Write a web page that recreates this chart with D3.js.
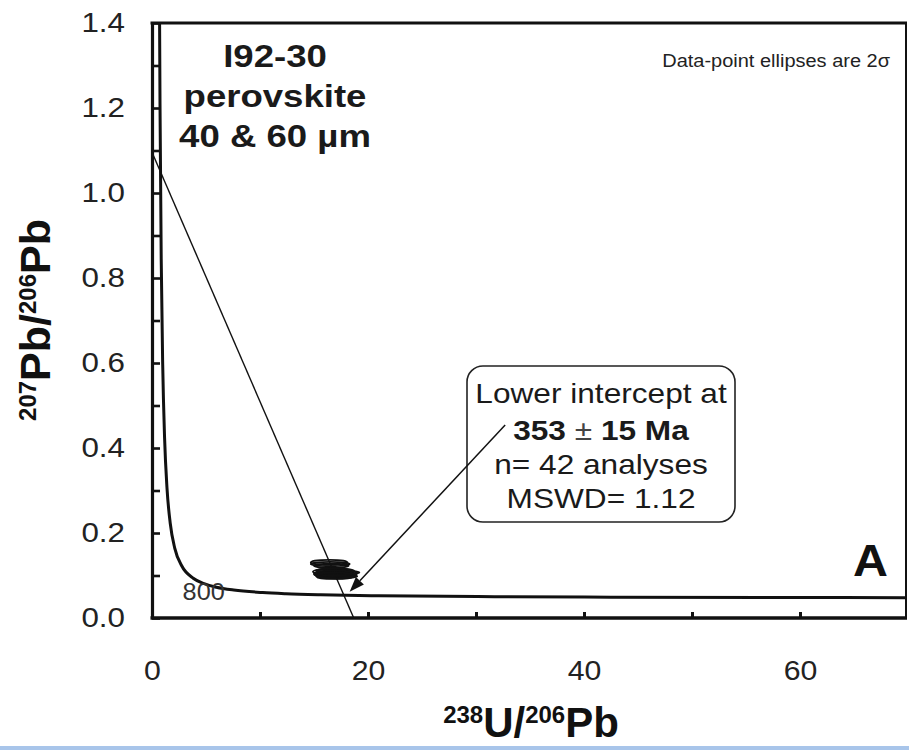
<!DOCTYPE html>
<html><head><meta charset="utf-8">
<script src="https://cdn.jsdelivr.net/npm/d3@7"></script>
<style>
html,body{margin:0;padding:0;background:#fff;}
svg{display:block;font-family:"Liberation Sans",Arial,sans-serif;}
</style></head>
<body>
<svg id="chart" width="909" height="750"></svg>
<script>
// ---- Data ----
// Concordia curve (Tera-Wasserburg)
const concordiaX = [0.651,0.704,0.742,0.853,0.990,1.163,1.387,1.688,2.111,2.749,3.817,4.888,5.960,7.568,10.25,12.40,15.62,20.99,31.74,42.48,63.97,71.13];
const concordiaY = [1.733,1.394,1.207,0.845,0.597,0.425,0.306,0.223,0.164,0.123,0.0936,0.0801,0.0725,0.0658,0.0599,0.0572,0.0547,0.0523,0.0501,0.0491,0.0480,0.0478];
// Discordia regression line: y-intercept and x-intercept
const discordiaX = [0, 18.68];
const discordiaY = [1.096, 0];
// Data-point ellipses (2 sigma): centres and half-widths
const ellX  = [16.4, 16.5, 16.6, 16.8, 17.0, 16.9, 17.1, 16.7, 17.2, 17.0, 16.9, 17.1, 16.8];
const ellY  = [0.131, 0.127, 0.123, 0.109, 0.105, 0.101, 0.098, 0.103, 0.107, 0.111, 0.096, 0.100, 0.112];
const ellSX = [1.7, 1.8, 1.6, 1.9, 2.0, 1.8, 1.9, 1.7, 2.0, 1.7, 1.6, 1.8, 1.6];
const ellSY = [0.006, 0.005, 0.005, 0.006, 0.006, 0.005, 0.005, 0.006, 0.005, 0.005, 0.004, 0.006, 0.005];
// Tick labels
const xTicks = [0, 10, 20, 30, 40, 50, 60];
const xTickLabels = ["0", "", "20", "", "40", "", "60"];
const yTicks = [0, 0.1, 0.2, 0.3, 0.4, 0.5, 0.6, 0.7, 0.8, 0.9, 1.0, 1.1, 1.2, 1.3, 1.4];
const yTickLabels = ["0.0","","0.2","","0.4","","0.6","","0.8","","1.0","","1.2","","1.4"];
// Concordia age marker
const ageLabel = {text: "800", x: 7.57, y: 0.0658};
// Arrow (data coords): start near box, tip at lower intercept
const arrowFrom = [32.7, 0.454];
const arrowTo = [18.3, 0.062];

// ---- Layout ----
const svg = d3.select("#chart");
const L = 152, R = 906, T = 23, B = 618;
const x = d3.scaleLinear().domain([0, 70]).range([L, 908]);
const y = d3.scaleLinear().domain([0, 1.4]).range([B, T]);
const ink = "#111";
const FF = '"Liberation Sans",Arial,sans-serif';

svg.append("defs").append("clipPath").attr("id","clip")
  .append("rect").attr("x",L).attr("y",T).attr("width",R-L).attr("height",B-T);

const plot = svg.append("g").attr("clip-path","url(#clip)");

// Concordia
const conc = concordiaX.map((d,i)=>[d, concordiaY[i]]);
plot.append("path").datum(conc)
  .attr("d", d3.line().x(d=>x(d[0])).y(d=>y(d[1])).curve(d3.curveMonotoneX))
  .attr("fill","none").attr("stroke",ink).attr("stroke-width",3);

// Discordia
plot.append("line")
  .attr("x1", x(discordiaX[0])).attr("y1", y(discordiaY[0]))
  .attr("x2", x(discordiaX[1])).attr("y2", y(discordiaY[1]))
  .attr("stroke", ink).attr("stroke-width", 1.4);

// Ellipses
plot.selectAll("ellipse.pt").data(ellX.map((d,i)=>i)).enter().append("ellipse")
  .attr("class","pt")
  .attr("cx", i=>x(ellX[i])).attr("cy", i=>y(ellY[i]))
  .attr("rx", i=>x(ellX[i]+ellSX[i])-x(ellX[i]))
  .attr("ry", i=>y(ellY[i]-ellSY[i])-y(ellY[i]))
  .attr("fill","none").attr("stroke",ink).attr("stroke-width",1.8);

// Axes
const yAxis = d3.axisLeft(y).tickValues(yTicks)
  .tickFormat((d,i)=>yTickLabels[i]).tickSizeInner(-8).tickSizeOuter(0).tickPadding(27);
const gy = svg.append("g").attr("transform",`translate(${L},0)`).call(yAxis);
gy.select(".domain").attr("stroke",ink).attr("stroke-width",3.2);
gy.selectAll(".tick line").attr("stroke",ink).attr("stroke-width",2.6);
gy.selectAll(".tick text").attr("font-size",28).attr("fill","#222")
  .attr("font-family",FF)
  .attr("x", -27/1.12).attr("transform","scale(1.12,1)");

const xAxis = d3.axisBottom(x).tickValues(xTicks)
  .tickFormat((d,i)=>xTickLabels[i]).tickSizeInner(-6).tickSizeOuter(0).tickPadding(42);
const gx = svg.append("g").attr("transform",`translate(0,${B})`).call(xAxis);
gx.select(".domain").remove();
gx.selectAll(".tick line").attr("stroke",ink).attr("stroke-width",3);
gx.selectAll(".tick text").attr("font-size",28).attr("fill","#222")
  .attr("font-family",FF).attr("transform","scale(1.08,1)");

// bottom axis line & frame
svg.append("line").attr("x1",L-1.5).attr("x2",R+1).attr("y1",B).attr("y2",B)
  .attr("stroke",ink).attr("stroke-width",3.5);
svg.append("line").attr("x1",L-1.5).attr("x2",R+1).attr("y1",T).attr("y2",T)
  .attr("stroke",ink).attr("stroke-width",3);
svg.append("line").attr("x1",R).attr("x2",R).attr("y1",T).attr("y2",B)
  .attr("stroke",ink).attr("stroke-width",2);

// text helper with horizontal stretch
function txt(xp, yp, str, size, opts={}) {
  const sx = opts.sx || 1.15;
  const t = svg.append("text")
    .attr("transform",`translate(${xp},${yp}) scale(${sx},1)`)
    .attr("font-size",size).attr("fill",opts.fill||"#1a1a1a")
    .attr("font-weight",opts.bold?"bold":"normal")
    .attr("text-anchor",opts.anchor||"middle");
  t.text(str);
  return t;
}

// Title
txt(275, 67, "I92-30", 31, {bold:true, sx:1.18});
txt(275, 107, "perovskite", 31, {bold:true, sx:1.18});
txt(275, 147, "40 & 60 µm", 31, {bold:true, sx:1.18});

// Note
txt(890, 67, "Data-point ellipses are 2σ", 18.5, {anchor:"end", sx:1.08, fill:"#222"});

// Panel letter
txt(888, 576, "A", 44, {bold:true, anchor:"end", sx:1.1, fill:"#111"});

// 800 age label
txt(x(ageLabel.x)-9, y(ageLabel.y)+10, ageLabel.text, 23, {anchor:"end", sx:1.1, fill:"#333"});

// Annotation box
svg.append("rect").attr("x",467).attr("y",366).attr("width",268).attr("height",156)
  .attr("rx",16).attr("ry",16).attr("fill","#fff").attr("stroke","#222").attr("stroke-width",1.6);
txt(601, 403, "Lower intercept at", 28, {sx:1.13});
const l2 = txt(601, 440, "", 28, {sx:1.13});
l2.append("tspan").attr("font-weight","bold").text("353 ");
l2.append("tspan").attr("font-weight","normal").attr("fill","#444").text("±");
l2.append("tspan").attr("font-weight","bold").text(" 15 Ma");
txt(601, 474, "n= 42 analyses", 28, {sx:1.13});
txt(601, 508, "MSWD= 1.12", 28, {sx:1.13});

// Arrow
const ax1 = x(arrowFrom[0]), ay1 = y(arrowFrom[1]), ax2 = x(arrowTo[0]), ay2 = y(arrowTo[1]);
const ang = Math.atan2(ay2-ay1, ax2-ax1);
const hl = 15, hw = 5.5;
const bx = ax2 - hl*Math.cos(ang), by = ay2 - hl*Math.sin(ang);
svg.append("line").attr("x1",ax1).attr("y1",ay1).attr("x2",bx).attr("y2",by)
  .attr("stroke",ink).attr("stroke-width",1.5);
svg.append("path").attr("d",
  `M${ax2},${ay2} L${bx + hw*Math.sin(ang)},${by - hw*Math.cos(ang)} L${bx - hw*Math.sin(ang)},${by + hw*Math.cos(ang)} Z`)
  .attr("fill",ink);

// Axis titles
const yt = svg.append("text").attr("transform","translate(50,320) rotate(-90)")
  .attr("text-anchor","middle").attr("fill","#111").attr("font-weight","bold");
yt.append("tspan").attr("font-size",24).attr("dy",-14).text("207");
yt.append("tspan").attr("font-size",43).attr("dy",14).text("Pb/");
yt.append("tspan").attr("font-size",24).attr("dy",-14).text("206");
yt.append("tspan").attr("font-size",43).attr("dy",14).text("Pb");

const xt = svg.append("text").attr("transform","translate(531,737)")
  .attr("text-anchor","middle").attr("fill","#111").attr("font-weight","bold");
xt.append("tspan").attr("font-size",24).attr("dy",-14).text("238");
xt.append("tspan").attr("font-size",42).attr("dy",14).text("U/");
xt.append("tspan").attr("font-size",24).attr("dy",-14).text("206");
xt.append("tspan").attr("font-size",42).attr("dy",14).text("Pb");

// bottom blue strip
svg.append("rect").attr("x",0).attr("y",746).attr("width",909).attr("height",4).attr("fill","#a8c5ea");
</script>
</body></html>
